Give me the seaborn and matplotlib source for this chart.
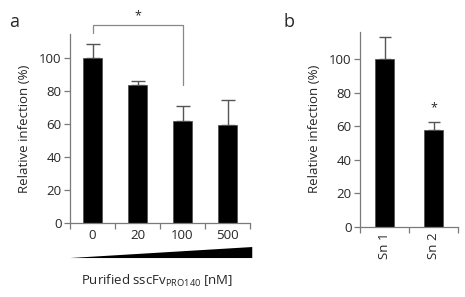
import numpy as np
import pandas as pd
import seaborn as sns
import matplotlib.pyplot as plt
from matplotlib.transforms import blended_transform_factory

# panel a: purified scFv titration
conc_labels = ["0", "20", "100", "500"]
rel_inf_a = [100.0, 83.6, 62.2, 59.4]
err_a = [8.5, 2.8, 8.8, 15.3]

# panel b: supernatants
sn_labels = ["Sn 1", "Sn 2"]
rel_inf_b = [100.4, 58.0]
err_b = [12.7, 4.5]

sns.set_theme(style="ticks")
plt.rcParams["font.family"] = ["Open Sans", "DejaVu Sans"]
plt.rcParams["mathtext.fontset"] = "custom"
plt.rcParams["mathtext.rm"] = "Open Sans"

AX_COL = "#7a7a7a"
ERR_COL = "#555555"
FS = 9.5

fig = plt.figure(figsize=(4.65, 2.97), dpi=100)
ax_a = fig.add_axes([70 / 465, 1 - 223.3 / 297, 180 / 465, 189.8 / 297])
ax_b = fig.add_axes([360 / 465, 1 - 226.7 / 297, 98 / 465, 195 / 297])


def style_axes(ax, n, ymax):
    ax.set_xlim(-0.5, n - 0.5)
    ax.set_ylim(0, ymax)
    sns.despine(ax=ax)
    for s in ["left", "bottom"]:
        ax.spines[s].set_color(AX_COL)
        ax.spines[s].set_linewidth(0.9)
    ax.set_yticks([0, 20, 40, 60, 80, 100])
    ax.tick_params(axis="y", length=4, width=0.9, color=AX_COL, labelsize=FS, pad=2)
    ax.set_xticks(np.arange(-0.5, n, 1.0), minor=True)
    ax.tick_params(axis="x", which="major", length=0, labelsize=FS, pad=4)
    ax.tick_params(axis="x", which="minor", length=4, width=0.9, color=AX_COL)
    ax.set_ylabel("Relative infection (%)", fontsize=FS)
    ax.set_xlabel("")


df_a = pd.DataFrame({"conc": conc_labels, "val": rel_inf_a})
sns.barplot(data=df_a, x="conc", y="val", color="black", width=0.42,
            edgecolor="#555555", linewidth=0.6, saturation=1, errorbar=None, ax=ax_a)
ax_a.errorbar(range(len(rel_inf_a)), rel_inf_a, yerr=[np.zeros(len(err_a)), err_a],
              fmt="none", ecolor=ERR_COL, elinewidth=1.0, capsize=5, capthick=1.0, zorder=0)
style_axes(ax_a, len(conc_labels), 115)
ax_a.yaxis.labelpad = 6

# significance bracket between 0 and 100 nM
ax_a.plot([0, 0, 2, 2], [115.5, 120.2, 120.2, 83.8], color="#888888", lw=0.9, clip_on=False)
ax_a.text(1, 122, "*", ha="center", va="bottom", fontsize=9)

# concentration wedge below axis
tr = blended_transform_factory(ax_a.transData, ax_a.transAxes)
ax_a.fill([-0.5, 3.55, 3.55], [-0.183, -0.125, -0.183], color="black",
          transform=tr, clip_on=False, lw=0)
fig.text(157 / 465, 1 - 281 / 297, r"Purified sscFv$_\mathregular{PRO140}$ [nM]",
         ha="center", va="center", fontsize=FS)

df_b = pd.DataFrame({"sn": sn_labels, "val": rel_inf_b})
sns.barplot(data=df_b, x="sn", y="val", color="black", width=0.39,
            edgecolor="#555555", linewidth=0.6, saturation=1, errorbar=None, ax=ax_b)
ax_b.errorbar(range(len(rel_inf_b)), rel_inf_b, yerr=[np.zeros(len(err_b)), err_b],
              fmt="none", ecolor=ERR_COL, elinewidth=1.0, capsize=4, capthick=1.0, zorder=0)
style_axes(ax_b, len(sn_labels), 116.5)
ax_b.yaxis.labelpad = 6
ax_b.tick_params(axis="x", which="major", labelrotation=90)
ax_b.text(1, 67, "*", ha="center", va="bottom", fontsize=9)

fig.text(14 / 465, 1 - 22 / 297, "a", fontsize=13, ha="center", va="center")
fig.text(289 / 465, 1 - 22 / 297, "b", fontsize=13, ha="center", va="center")

fig.savefig("out.png", dpi=100)
